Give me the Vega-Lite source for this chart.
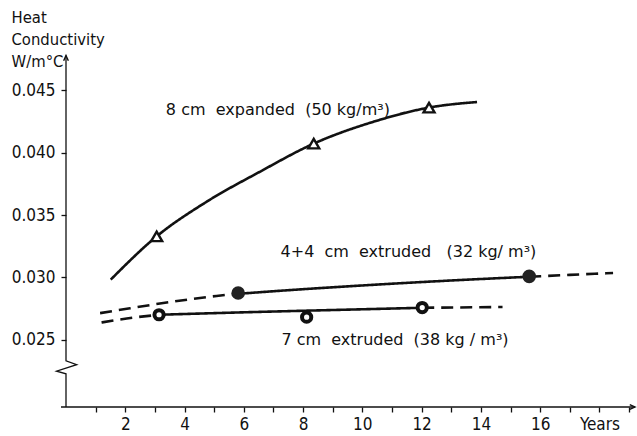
{
  "$schema": "https://vega.github.io/schema/vega-lite/v6.json",
  "autosize": "none",
  "width": 569,
  "height": 354,
  "padding": {"left": 66, "top": 53, "right": 2, "bottom": 29},
  "background": "white",
  "config": {
    "view": {"stroke": null},
    "font": "DejaVu Sans Condensed",
    "axis": {
      "labelFont": "DejaVu Sans Condensed",
      "titleFont": "DejaVu Sans Condensed",
      "labelFontSize": 17,
      "labelColor": "#111",
      "tickColor": "#111",
      "tickWidth": 1.3,
      "grid": false,
      "domain": false
    }
  },
  "datasets": {
    "curves": [
      {"seg": "exp", "style": "solid", "x": 1.51, "y": 0.02982},
      {"seg": "exp", "style": "solid", "x": 3.06, "y": 0.03329},
      {"seg": "exp", "style": "solid", "x": 4.74, "y": 0.03606},
      {"seg": "exp", "style": "solid", "x": 6.54, "y": 0.03847},
      {"seg": "exp", "style": "solid", "x": 8.36, "y": 0.04073},
      {"seg": "exp", "style": "solid", "x": 10.37, "y": 0.04248},
      {"seg": "exp", "style": "solid", "x": 12.25, "y": 0.04362},
      {"seg": "exp", "style": "solid", "x": 13.87, "y": 0.04407},
      {"seg": "a1", "style": "dashed", "x": 1.15, "y": 0.02713},
      {"seg": "a1", "style": "dashed", "x": 2.16, "y": 0.02752},
      {"seg": "a1", "style": "dashed", "x": 3.17, "y": 0.0279},
      {"seg": "a1", "style": "dashed", "x": 4.18, "y": 0.02824},
      {"seg": "a1", "style": "dashed", "x": 5.08, "y": 0.02851},
      {"seg": "a1", "style": "dashed", "x": 5.81, "y": 0.02868},
      {"seg": "a2", "style": "solid", "x": 5.81, "y": 0.02868},
      {"seg": "a2", "style": "solid", "x": 7.5, "y": 0.02897},
      {"seg": "a2", "style": "solid", "x": 9.58, "y": 0.02929},
      {"seg": "a2", "style": "solid", "x": 12.6, "y": 0.0297},
      {"seg": "a2", "style": "solid", "x": 15.63, "y": 0.03005},
      {"seg": "a3", "style": "dashed", "x": 15.63, "y": 0.03005},
      {"seg": "a3", "style": "dashed", "x": 17.0, "y": 0.0302},
      {"seg": "a3", "style": "dashed", "x": 18.46, "y": 0.03035},
      {"seg": "b1", "style": "dashed", "x": 1.2, "y": 0.02638},
      {"seg": "b1", "style": "dashed", "x": 2.05, "y": 0.0267},
      {"seg": "b1", "style": "dashed", "x": 3.14, "y": 0.027},
      {"seg": "b2", "style": "solid", "x": 3.14, "y": 0.027},
      {"seg": "b2", "style": "solid", "x": 6.21, "y": 0.02721},
      {"seg": "b2", "style": "solid", "x": 9.0, "y": 0.02738},
      {"seg": "b2", "style": "solid", "x": 12.02, "y": 0.02756},
      {"seg": "b3", "style": "dashed", "x": 12.02, "y": 0.02756},
      {"seg": "b3", "style": "dashed", "x": 14.73, "y": 0.02762}
    ],
    "markers": [
      {"kind": "triangle", "x": 3.06, "y": 0.03329},
      {"kind": "triangle", "x": 8.36, "y": 0.04073},
      {"kind": "triangle", "x": 12.25, "y": 0.04362},
      {"kind": "filled", "x": 5.81, "y": 0.02875},
      {"kind": "filled", "x": 15.63, "y": 0.03008},
      {"kind": "open", "x": 3.14, "y": 0.027},
      {"kind": "open", "x": 8.12, "y": 0.02681},
      {"kind": "open", "x": 12.02, "y": 0.02758}
    ],
    "labels": [
      {"text": "8 cm\u00a0 expanded\u00a0 (50\u00a0kg/m³)", "x": 3.37, "y": 0.0434},
      {"text": "4+4\u00a0 cm\u00a0 extruded\u00a0\u00a0 (32 kg/ m³)", "x": 7.24, "y": 0.03203},
      {"text": "7 cm\u00a0 extruded\u00a0 (38 kg / m³)", "x": 7.27, "y": 0.02494}
    ],
    "axes": [
      {"part": "y", "i": 0, "x": 0, "y": 0.0478},
      {"part": "y", "i": 1, "x": 0, "y": 0.0233},
      {"part": "y", "i": 2, "x": 0.36, "y": 0.023},
      {"part": "y", "i": 3, "x": -0.32, "y": 0.02248},
      {"part": "y", "i": 4, "x": 0, "y": 0.02226},
      {"part": "y", "i": 5, "x": 0, "y": 0.0196},
      {"part": "x", "i": 0, "x": -0.17, "y": 0.0196},
      {"part": "x", "i": 1, "x": 19.2, "y": 0.0196}
    ],
    "arrows": [
      {"dir": "up", "x": 0, "y": 0.0478},
      {"dir": "right", "x": 19.2, "y": 0.0196}
    ]
  },
  "encoding": {
    "x": {
      "field": "x", "type": "quantitative",
      "scale": {"domain": [0, 19.2], "nice": false, "zero": false},
      "axis": {
        "values": [1, 2, 3, 4, 5, 6, 7, 8, 9, 10, 11, 12, 13, 14, 15, 16, 17, 18, 19],
        "labelExpr": "datum.value == 18 ? 'Years' : ((datum.value % 2 == 0 && datum.value <= 16) ? datum.label : '')",
        "tickSize": 5,
        "labelPadding": 4,
        "title": null
      }
    },
    "y": {
      "field": "y", "type": "quantitative",
      "scale": {"domain": [0.0196, 0.048], "nice": false, "zero": false},
      "axis": {
        "values": [0.025, 0.03, 0.035, 0.04, 0.045],
        "format": ".3f",
        "tickSize": 5,
        "labelPadding": 6,
        "title": ["Heat", "Conductivity", "W/m°C"],
        "titleAngle": 0,
        "titleAlign": "left",
        "titleBaseline": "alphabetic",
        "titleX": -55,
        "titleY": -31,
        "titleFontSize": 16.5,
        "titleFontWeight": "normal",
        "titleLineHeight": 22,
        "titleColor": "#111"
      }
    }
  },
  "layer": [
    {
      "data": {"name": "axes"},
      "mark": {"type": "line", "color": "#111", "strokeWidth": 1.3},
      "encoding": {
        "detail": {"field": "part"},
        "order": {"field": "i", "type": "quantitative"}
      }
    },
    {
      "data": {"name": "arrows"},
      "mark": {"type": "point", "filled": false, "stroke": "#111", "strokeWidth": 1.4, "size": 110, "opacity": 1},
      "encoding": {
        "shape": {
          "field": "dir", "type": "nominal",
          "scale": {"domain": ["up", "right"], "range": ["M-0.45,1L0,0L0.45,1", "M-1,-0.45L0,0L-1,0.45"]},
          "legend": null
        }
      }
    },
    {
      "data": {"name": "curves"},
      "mark": {"type": "line", "color": "#111", "strokeWidth": 2.6, "interpolate": "monotone"},
      "encoding": {
        "detail": {"field": "seg"},
        "strokeDash": {
          "field": "style", "type": "nominal",
          "scale": {"domain": ["solid", "dashed"], "range": [[1, 0], [12, 7]]},
          "legend": null
        }
      }
    },
    {
      "data": {"name": "markers"},
      "transform": [{"filter": "datum.kind == 'triangle'"}],
      "mark": {"type": "point", "shape": "triangle-up", "filled": false, "fill": "white", "fillOpacity": 1, "stroke": "#111", "strokeWidth": 2.4, "size": 120, "opacity": 1}
    },
    {
      "data": {"name": "markers"},
      "transform": [{"filter": "datum.kind == 'open'"}],
      "mark": {"type": "point", "shape": "circle", "filled": false, "fill": "white", "fillOpacity": 1, "stroke": "#111", "strokeWidth": 4, "size": 85, "opacity": 1}
    },
    {
      "data": {"name": "markers"},
      "transform": [{"filter": "datum.kind == 'filled'"}],
      "mark": {"type": "point", "shape": "circle", "filled": true, "color": "#222", "size": 185, "opacity": 1}
    },
    {
      "data": {"name": "labels"},
      "mark": {"type": "text", "align": "left", "baseline": "middle", "font": "DejaVu Sans", "fontSize": 16, "color": "#111"},
      "encoding": {"text": {"field": "text"}}
    }
  ]
}
